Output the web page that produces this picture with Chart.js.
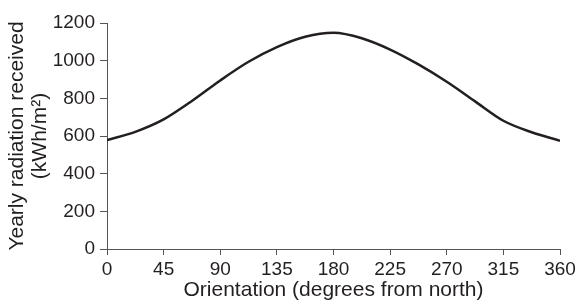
<!DOCTYPE html>
<html>
<head>
<meta charset="utf-8">
<script src="https://cdn.jsdelivr.net/npm/chart.js@4/dist/chart.umd.min.js"></script>
<style>
  html, body { margin: 0; padding: 0; background: #fff; }
  #wrap { width: 584px; height: 302px; }
</style>
</head>
<body>
<div id="wrap"><canvas id="chart"></canvas></div>
<script>
// orientation in degrees from north, radiation in kWh/m2
const orientation = [0, 22.5, 45, 67.5, 90, 112.5, 135, 157.5, 180, 202.5, 225, 247.5, 270, 292.5, 315, 337.5, 360];
const radiation = [578, 622, 688, 786, 895, 994, 1072, 1127, 1148, 1119, 1059, 980, 888, 784, 681, 620, 575];
const xTicks = [0, 45, 90, 135, 180, 225, 270, 315, 360];
const yTicks = [0, 200, 400, 600, 800, 1000, 1200];

const ink = '#231f20';
const axisGray = '#555555';
const fontFamily = '"Liberation Sans", Arial, sans-serif';

const points = orientation.map((x, i) => ({ x: x, y: radiation[i] }));

new Chart(document.getElementById('chart'), {
    type: 'line',
    data: {
        datasets: [{
            data: points,
            borderColor: ink,
            borderWidth: 2.5,
            pointRadius: 0,
            fill: false,
            cubicInterpolationMode: 'monotone'
        }]
    },
    options: {
        responsive: true,
        maintainAspectRatio: false,
        animation: false,
        layout: { padding: { top: 23, right: 24, left: 0, bottom: 0 } },
        plugins: {
            legend: { display: false },
            tooltip: { enabled: false }
        },
        scales: {
            x: {
                type: 'linear',
                min: xTicks[0],
                max: xTicks[xTicks.length - 1],
                afterBuildTicks: (axis) => { axis.ticks = xTicks.map(v => ({ value: v })); },
                afterFit: (axis) => { axis.height = 53; },
                grid: { display: true, drawOnChartArea: false, drawTicks: true, tickLength: 6, color: axisGray },
                border: { display: true, color: axisGray, width: 1 },
                ticks: {
                    color: ink, padding: 3, maxRotation: 0,
                    font: { family: fontFamily, size: 19 },
                    callback: (v) => String(v)
                },
                title: {
                    display: true,
                    text: 'Orientation (degrees from north)',
                    color: ink,
                    font: { family: fontFamily, size: 21, lineHeight: 1.1 },
                    padding: { top: 0, bottom: 0 }
                }
            },
            y: {
                min: yTicks[0],
                max: yTicks[yTicks.length - 1],
                afterBuildTicks: (axis) => { axis.ticks = yTicks.map(v => ({ value: v })); },
                afterFit: (axis) => { axis.width = 107; },
                grid: { display: true, drawOnChartArea: false, drawTicks: true, tickLength: 7, color: axisGray },
                border: { display: true, color: axisGray, width: 1 },
                ticks: {
                    color: ink, padding: 5,
                    font: { family: fontFamily, size: 19 },
                    callback: (v) => String(v)
                },
                title: {
                    display: true,
                    text: ['Yearly radiation received', '(kWh/m\u00b2)'],
                    color: ink,
                    font: { family: fontFamily, size: 21, lineHeight: 1.1 },
                    padding: { top: 6, bottom: 0 }
                }
            }
        }
    }
});
</script>
</body>
</html>
